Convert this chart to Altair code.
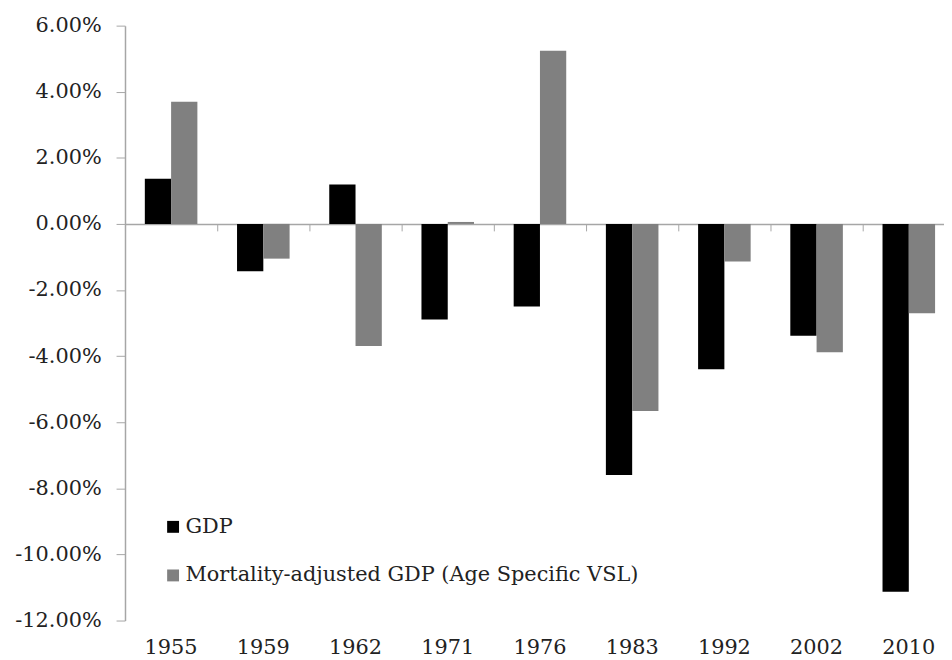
import altair as alt
import pandas as pd

years = ["1955", "1959", "1962", "1971", "1976", "1983", "1992", "2002", "2010"]
series_names = ["GDP", "Mortality-adjusted GDP (Age Specific VSL)"]
gdp = [0.0137, -0.0143, 0.0119, -0.0289, -0.0250, -0.0760, -0.0440, -0.0338, -0.1113]
adj_gdp = [0.0370, -0.0105, -0.0369, 0.0006, 0.0524, -0.0566, -0.0114, -0.0388, -0.0270]
y_ticks = [-0.12, -0.10, -0.08, -0.06, -0.04, -0.02, 0.0, 0.02, 0.04, 0.06]

rows = []
for i, yr in enumerate(years):
    rows.append({"year": yr, "series": series_names[0], "value": gdp[i]})
    rows.append({"year": yr, "series": series_names[1], "value": adj_gdp[i]})
df = pd.DataFrame(rows)

FONT = "DejaVu Serif"
FS = 21
TXT = "#222222"
AX = "#a6a6a6"

xscale = alt.Scale(domain=years, paddingInner=0.43, paddingOuter=0.215, range=[0, 837])
yscale = alt.Scale(domain=[-0.12, 0.06], nice=False, zero=False)
yaxis = alt.Axis(title=None, values=y_ticks, grid=False,
                 labelExpr="replace(format(datum.value, '.2%'), '\u2212', '-')",
                 domainColor=AX, tickColor=AX, tickSize=9, domainWidth=1.5,
                 labelFont=FONT, labelFontSize=FS, labelColor=TXT,
                 labelPadding=15)

bars = alt.Chart(df).mark_bar(strokeWidth=0).encode(
    x=alt.X("year:N", sort=years, scale=xscale,
            axis=alt.Axis(title=None, orient="bottom", domain=False, ticks=False,
                          labelAngle=0, labelFont=FONT, labelFontSize=FS,
                          labelColor=TXT, labelPadding=16, grid=False)),
    xOffset=alt.XOffset("series:N", sort=series_names,
                        scale=alt.Scale(paddingInner=0, paddingOuter=0)),
    y=alt.Y("value:Q", scale=yscale, axis=yaxis),
    color=alt.Color("series:N", sort=series_names,
                    scale=alt.Scale(domain=series_names, range=["#000000", "#808080"]),
                    legend=alt.Legend(title=None, orient="none", legendX=38, legendY=495,
                                      direction="vertical", symbolType="square",
                                      symbolSize=144, symbolStrokeWidth=0,
                                      labelFont=FONT, labelFontSize=FS, labelColor=TXT,
                                      labelOffset=2, rowPadding=27, padding=0,
                                      labelLimit=600)),
)

zero_axis = alt.Chart(df).mark_bar(opacity=0).encode(
    x=alt.X("year:N", sort=years, scale=xscale,
            axis=alt.Axis(title=None, orient="bottom", offset=-400, labels=False,
                          domainColor=AX, domainWidth=1.5, tickColor=AX, tickSize=7,
                          tickOffset=-46.5, grid=False)),
    y=alt.Y("value:Q", scale=yscale, axis=yaxis),
)

chart = alt.layer(bars, zero_axis).resolve_axis(x="independent").properties(
    width=826, height=600,
    autosize=alt.AutoSizeParams(type="none"),
    padding={"left": 118, "top": 15, "right": 0, "bottom": 36},
).configure(background="white").configure_view(stroke=None)

chart.save("out.html", embed_options={"renderer": "svg", "actions": False})
